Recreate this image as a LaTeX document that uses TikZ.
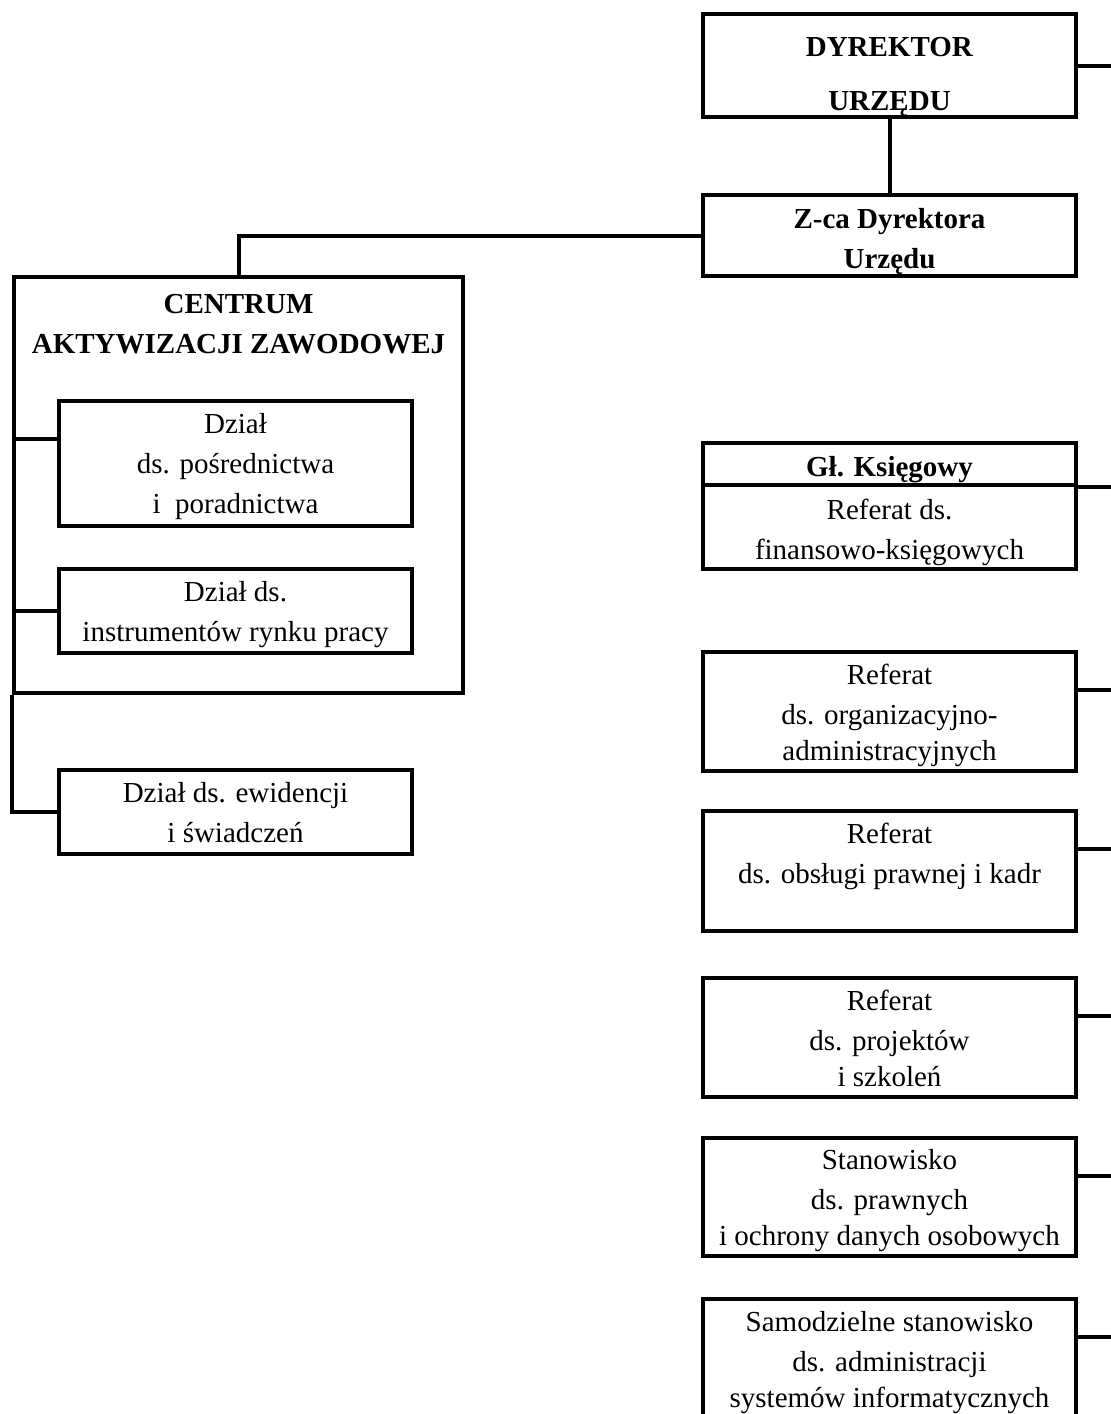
\documentclass[tikz,border=0pt]{standalone}
\usepackage{fontspec}
\setmainfont{Liberation Serif}
\tikzset{
	unit/.style={draw, line width=2pt, align=center, inner sep=0pt,
		font=\fontsize{14.5}{20}\selectfont, text depth=0pt},
	rbox/.style={unit, minimum width=186.5pt},
	lbox/.style={unit, minimum width=176.5pt},
	conn/.style={line width=2pt},
	one row/.style={text height=12.5pt},
	two rows/.style={text height=32.5pt},
	three rows/.style={text height=48.5pt},
}
\newcommand{\hd}[1]{\textbf{#1}}
\newcommand{\rightunits}{org/711.5, kadr/871, proj/1037.5, stan/1197, sam/1358.5}

\begin{document}
\begin{tikzpicture}[x=0.5pt,y=-0.5pt]
  \useasboundingbox (0,0) rectangle (1111,1414);
  % management
  \node[rbox, minimum height=51.5pt, text height=45pt] (dyr) at (889.5,65.5) {\hd{DYREKTOR}\\[7pt]\hd{URZĘDU}};
  \node[rbox, two rows, minimum height=40.5pt] (zca) at (889.5,235.5) {\hd{Z-ca Dyrektora}\\\hd{Urzędu}};
  \draw[conn] (dyr) -- (zca);
  \draw[conn] (dyr.east) -- ++(20pt,0);
  % left column
  \node[unit, minimum width=224.5pt, minimum height=208pt] (caz) at (238.5,485) {};
  \node[unit, draw=none] (caztitle) at (238.5,324) {\hd{CENTRUM}\\\hd{AKTYWIZACJI ZAWODOWEJ}};
  \node[lbox, minimum height=62.5pt] (dz1) at (235.5,463.5) {Dział\\ds. pośrednictwa\hspace*{1.1em}\\i\ \ poradnictwa};
  \node[lbox, minimum height=42pt] (dz2) at (235.5,611) {Dział ds.\\instrumentów rynku pracy};
  \node[lbox, minimum height=42pt] (dz3) at (235.5,812) {Dział ds. ewidencji\\i świadczeń};
  \draw[conn] (zca.west) -| (caz.north);
  \draw[conn] (caz.south west) |- (dz3.west);
  \draw[conn] ([yshift=-20pt]dz1.north west -| caz.west) -- ([yshift=-20pt]dz1.north west);
  \draw[conn] (dz2.west -| caz.west) -- (dz2.west);
  % right column
  \node[rbox, one row, minimum height=21pt] (glk) at (889.5,464) {\hd{Gł. Księgowy}};
  \node[rbox, two rows, minimum height=42pt] (reffk) at (889.5,527) {Referat ds.\\finansowo-księgowych};
  \draw[conn] (glk.south east) -- ++(20pt,0);
  \node[rbox, three rows, minimum height=59.5pt] (org) at (889.5,711.5) {Referat\\ds. organizacyjno-\\[-2pt]administracyjnych};
  \node[rbox, minimum height=60pt, text height=52.5pt] (kadr) at (889.5,871) {Referat\\ds. obsługi prawnej i kadr\\\mbox{}};
  \node[rbox, three rows, minimum height=59.5pt] (proj) at (889.5,1037.5) {Referat\\ds. projektów\\[-2pt]i szkoleń};
  \node[rbox, three rows, minimum height=59pt] (stan) at (889.5,1197) {Stanowisko\\ds. prawnych\\[-2pt]i ochrony danych osobowych};
  \node[rbox, three rows, minimum height=59.5pt] (sam) at (889.5,1358.5) {Samodzielne stanowisko\\ds. administracji\\[-2pt]systemów informatycznych};
  \foreach \n/\y in \rightunits {
	  \draw[conn] ([yshift=-20pt]\n.north east) -- ++(20pt,0);
  }
\end{tikzpicture}
\end{document}
